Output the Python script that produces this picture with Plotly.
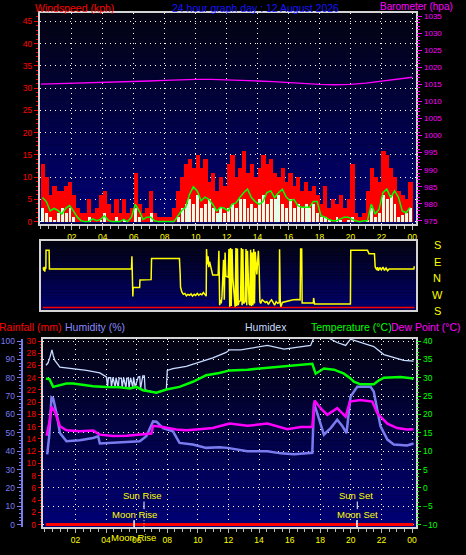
import plotly.graph_objects as go

W, H = 466, 555
def px(x): return x / W
def py(y): return 1 - y / H

FONT = "Liberation Sans"

# ---------------- data ----------------
# wind, 15-minute slots starting at 00:00
wind_slot_h = [i * 0.25 for i in range(96)]
gust_kph = [13, 10, 6, 8,   7, 7, 8, 9,   6, 3, 2, 2,   5, 2, 3, 6,
            7, 4, 2, 5,     2, 5, 2, 3,   11, 4, 2, 3,  7, 2, 1, 1,
            1, 1, 3, 7,     10, 13, 14, 12,  15, 12, 14, 9,  11, 7, 10, 8,
            13, 15, 10, 12, 16, 11, 13, 10,  12, 15, 13, 14, 11, 10, 12, 9,
            11, 8, 10, 7,   9, 7, 8, 6,   4, 8, 3, 5,   4, 6, 3, 5,
            13, 2, 1, 2,    7, 12, 10, 9,  16, 15, 12, 10,  7, 6, 5, 9]
avg_kph = [3, 2, 1, 0.5,  2, 3, 2, 3,  1, 0, 0, 0,  1, 0, 0, 0.5,
           2, 0, 0, 1,    0, 0.5, 0, 0,  3, 1, 0, 0,  2, 0, 0, 0,
           0, 0, 0, 1,    3, 4, 5, 4,  6, 3, 4, 5,  3, 2, 3, 2,
           3, 4, 3, 5,    5, 3, 4, 3,  5, 6, 4, 5,  5, 6, 4, 3,
           5, 3, 4, 3,    4, 3, 4, 2,  1, 1, 0.5, 0,  1, 0.5, 0, 0.5,
           1, 0, 0, 0,    0.5, 3, 1, 2,  6, 5, 6, 4,  1, 1.5, 2, 3]
avg10_kph = [5.4, 4.5, 2.4, 3.0,  2.5, 1.7, 3.0, 3.6,  2.4, 1.0, 0.2, 0.0,  0.0, 0.6, 0.2, 0.5,
             1.3, 0.3, 0.0, 0.0,  0.0, 0.5, 0.0, 1.0,  3.9, 2.4, 0.5, 1.0,  1.0, 0.2, 0.0, 0.0,
             0.0, 0.0, 0.0, 1.3,  2.5, 3.2, 6.1, 7.8,  6.9, 4.7, 5.5, 5.0,  3.9, 2.4, 3.2, 3.0,
             2.4, 3.9, 4.2, 5.4,  6.5, 7.3, 5.4, 4.5,  3.9, 4.5, 6.5, 6.9,  5.4, 6.5, 7.3, 5.5,
             4.7, 5.0, 3.6, 3.2,  3.2, 3.2, 4.5, 4.5,  1.3, 1.0, 0.5, 0.2,  0.2, 0.6, 1.0, 1.0,
             0.5, 0.2, 0.0, 0.2,  0.2, 3.9, 1.7, 2.8,  6.5, 7.3, 5.4, 6.9,  5.5, 2.4, 2.0, 3.2]

baro_hours = list(range(25))
baro_hpa = [1015.1, 1015.2, 1015.3, 1015.4, 1015.5, 1015.6, 1015.8, 1016.0, 1016.2,
            1016.4, 1016.5, 1016.5, 1016.4, 1016.2, 1016.0, 1015.8, 1015.5, 1015.2,
            1015.0, 1014.9, 1015.0, 1015.4, 1016.0, 1016.6, 1017.1]

# wind direction, signed bearing in degrees (E positive, W negative, S = +/-180)
dir_hours = [0.15, 0.18, 0.21, 0.25, 0.28, 0.32, 0.33, 0.53, 0.55, 5.85,
             5.88, 5.90, 5.92, 5.94, 5.96, 6.38, 6.40, 7.12, 7.15, 8.95,
             9.00, 9.02, 9.10, 9.20, 9.30, 9.40, 9.50, 9.60, 9.70, 9.80,
             9.90, 10.00, 10.10, 10.20, 10.30, 10.40, 10.50, 10.60, 10.68, 10.70,
             10.75, 10.80, 10.85, 10.90, 11.00, 11.10, 11.45, 11.50, 11.55, 11.60,
             11.65, 11.70, 11.80, 11.85, 11.90, 11.95, 12.10, 12.15, 12.20, 12.25,
             12.30, 12.35, 12.40, 12.50, 12.55, 12.60, 12.65, 12.70, 12.75, 12.80,
             12.90, 12.95, 13.00, 13.05, 13.10, 13.20, 13.25, 13.30, 13.35, 13.45,
             13.50, 13.55, 13.60, 13.65, 13.70, 13.75, 13.80, 13.85, 13.95, 14.05,
             14.10, 14.15, 14.20, 14.30, 14.50, 14.60, 14.70, 14.80, 14.90, 15.00,
             15.10, 15.20, 15.30, 15.40, 15.42, 15.47, 15.50, 15.60, 15.80, 16.00,
             16.30, 16.60, 16.75, 16.78, 16.85, 16.88, 17.60, 17.62, 17.68, 20.00,
             20.02, 21.10, 21.15, 21.20, 21.55, 21.60, 21.70, 21.75, 21.80, 21.90,
             22.00, 22.10, 22.20, 22.30, 22.40, 22.50, 22.70, 24.10, 24.12]
dir_deg = [58, 40, 62, 35, 55, 55, 153, 153, 49, 49,
           120, -60, 100, -102, -52, -52, -11, -9, 107, 107,
           20, -50, -75, -90, -85, -98, -90, -95, -88, -100,
           -90, -96, -85, -95, -88, -92, -80, -95, -100, 160,
           75, 120, 60, 90, 45, 16, 16, 150, -150, -120,
           -140, -100, 100, -120, 140, 10, 5, 160, -160, 165,
           -155, 160, 0, -150, -160, 165, -155, 162, -150, -130,
           -125, 165, -150, 160, -140, -130, 160, -150, 150, -140,
           -150, 155, -155, 140, -150, 160, -140, 145, 20, 150,
           60, -130, -140, -120, -135, -130, -145, -130, -120, -135,
           -150, -130, -140, -135, 158, -140, -160, -135, -130, -125,
           -120, -118, -120, 160, 160, -138, -138, -110, -143, -143,
           153, 153, 140, 134, 134, 61, 45, 60, 40, 58,
           45, 60, 42, 55, 40, 50, 49, 49, 65]
dir_labels = ["S", "E", "N", "W", "S"]
dir_label_y_px = [245, 262, 278.5, 295, 311.3]

temp_hours = [0.07, 0.30, 0.54, 0.98, 1.41, 1.85, 2.50, 3.15, 4.02, 4.89,
              5.54, 5.98, 6.41, 7.29, 7.94, 8.80, 9.67, 10.55, 11.40, 12.07,
              13.24, 14.55, 15.85, 17.48, 17.70, 18.24, 18.90, 19.55, 19.98, 20.20,
              20.63, 21.50, 21.84, 22.16, 23.24, 24.10]
temp_c = [29.8, 29.6, 27.5, 28.0, 28.4, 28.4, 28.0, 27.7, 27.5, 27.4,
          27.1, 27.5, 26.6, 25.9, 26.8, 27.5, 28.9, 30.7, 31.3, 32.0,
          32.2, 32.7, 33.1, 33.8, 31.1, 32.5, 32.2, 31.1, 29.8, 28.9,
          28.2, 28.2, 29.3, 30.0, 30.2, 29.8]

hx_hours = [0.07, 0.20, 0.33, 0.46, 0.55, 0.65, 0.98, 1.85, 2.72, 3.59,
            4.02, 4.10, 4.15, 4.30, 4.35, 4.45, 4.60, 4.65, 4.80, 4.85,
            5.00, 5.05, 5.15, 5.30, 5.35, 5.45, 5.50, 5.60, 5.75, 5.80,
            5.90, 6.10, 6.20, 6.25, 6.40, 6.50, 6.55, 7.29, 7.94, 8.00,
            8.37, 9.24, 10.10, 10.98, 11.85, 12.07, 12.80, 13.68, 14.55, 15.64,
            16.72, 17.37, 17.59, 18.46, 19.10, 19.66, 19.98, 20.63, 21.50, 22.16,
            22.81, 23.46, 24.10]
humidex_c = [33.4, 34.0, 35.6, 37.6, 36.0, 34.7, 32.9, 32.5, 32.0, 31.3,
             30.2, 27.5, 30.0, 30.0, 27.5, 30.1, 27.4, 30.0, 27.4, 29.9,
             29.9, 27.3, 30.0, 27.2, 29.9, 29.9, 27.2, 30.0, 27.4, 30.1,
             27.5, 30.2, 30.3, 27.0, 30.5, 30.5, 26.7, 25.9, 26.8, 32.0,
             32.5, 33.1, 34.3, 35.4, 36.9, 37.6, 37.6, 38.3, 38.8, 37.8,
             38.3, 38.8, 41.0, 41.0, 39.6, 38.8, 40.5, 39.6, 38.5, 36.3,
             35.4, 34.7, 34.5]

hum_hours = [0.15, 0.28, 0.43, 0.54, 0.76, 0.98, 1.41, 2.28, 3.15, 3.48,
             3.59, 4.46, 5.33, 6.20, 6.63, 6.90, 7.07, 7.30, 7.72, 8.37,
             8.60, 8.80, 9.67, 10.55, 11.40, 11.94, 13.24, 14.55, 15.41, 16.29,
             17.48, 17.59, 17.80, 18.24, 18.68, 19.11, 19.44, 19.72, 19.98, 20.42,
             21.29, 21.50, 21.94, 22.39, 22.81, 23.68, 24.10]
humidity_pct = [38.3, 48.1, 69.3, 68.8, 60.7, 49.9, 45.4, 46.0, 47.2, 48.1,
                44.2, 44.6, 45.0, 45.4, 48.1, 53.0, 56.2, 56.0, 52.6, 50.8,
                47.0, 44.5, 43.6, 41.8, 42.1, 41.8, 40.0, 40.0, 38.8, 38.3,
                39.1, 66.1, 60.7, 49.0, 52.6, 57.1, 53.7, 49.9, 69.7, 75.1,
                75.1, 72.4, 53.5, 46.3, 43.6, 43.1, 44.2]

dp_hours = [0.11, 0.28, 0.43, 0.65, 0.98, 1.41, 2.28, 3.15, 3.59, 4.46,
            5.33, 6.20, 6.96, 7.07, 7.72, 8.59, 9.24, 10.10, 10.98, 12.07,
            13.24, 14.55, 15.85, 16.72, 17.48, 17.63, 18.02, 18.46, 19.11, 19.66,
            19.94, 20.63, 21.40, 21.73, 22.39, 23.03, 23.68, 24.10]
dewpoint_c = [14.2, 17.6, 22.1, 20.8, 16.8, 15.7, 15.4, 15.6, 14.5, 14.1,
              14.2, 14.5, 14.8, 16.9, 16.6, 15.9, 15.7, 16.0, 16.3, 17.5,
              16.9, 17.5, 16.0, 16.6, 16.6, 23.8, 21.7, 19.9, 21.7, 19.4,
              23.5, 23.9, 23.5, 20.3, 17.5, 16.3, 15.9, 16.0]

rain_hours = [0.05, 24.10]
rain_mm = [0, 0]

hour_ticks = [2, 4, 6, 8, 10, 12, 14, 16, 18, 20, 22, 24]
hour_labels = ["02", "04", "06", "08", "10", "12", "14", "16", "18", "20", "22", "00"]

sun_rise_h, moon_rise_h = 6.48, 5.83
sun_set_h, moon_set_h = 20.42, 20.40

title_text = "24 hour graph day : 12 August 2026"

# ---------------- figure ----------------
RED, MAG, GRN, YEL = "#ff0000", "#ff00ff", "#00ff00", "#ffff00"
HUMC, HXC, FRAME = "#7b7bf0", "#c8dcff", "#d4d4d4"
GRID = dict(showgrid=True, gridcolor="#ffffff", griddash="1px,4px", gridwidth=1)

fig = go.Figure()

# top panel: wind speed
slot_mid = [h + 0.125 for h in wind_slot_h]
fig.add_trace(go.Bar(x=slot_mid, y=gust_kph, width=0.27,
                     marker=dict(color=RED, line=dict(width=0)), xaxis="x", yaxis="y"))
fig.add_trace(go.Bar(x=slot_mid, y=avg_kph, width=0.19,
                     marker=dict(color="#e4ffe8", line=dict(width=0)), xaxis="x", yaxis="y"))
fig.add_trace(go.Scatter(x=[h + 0.1 for h in wind_slot_h], y=avg10_kph, mode="lines",
                         line=dict(color=GRN, width=1.5), xaxis="x", yaxis="y"))
fig.add_trace(go.Scatter(x=baro_hours, y=baro_hpa, mode="lines",
                         line=dict(color=MAG, width=1.3), xaxis="x", yaxis="y2"))

# middle panel: direction
fig.add_trace(go.Scatter(x=dir_hours, y=dir_deg, mode="lines",
                         line=dict(color=YEL, width=1.5), xaxis="x2", yaxis="y3"))

# bottom panel
fig.add_trace(go.Scatter(x=hx_hours, y=humidex_c, mode="lines",
                         line=dict(color=HXC, width=1.3), xaxis="x3", yaxis="y6"))
fig.add_trace(go.Scatter(x=temp_hours, y=temp_c, mode="lines",
                         line=dict(color=GRN, width=2.5), xaxis="x3", yaxis="y6"))
fig.add_trace(go.Scatter(x=hum_hours, y=humidity_pct, mode="lines",
                         line=dict(color=HUMC, width=2.5), xaxis="x3", yaxis="y5"))
fig.add_trace(go.Scatter(x=dp_hours, y=dewpoint_c, mode="lines",
                         line=dict(color=MAG, width=2.5), xaxis="x3", yaxis="y6"))
fig.add_trace(go.Scatter(x=rain_hours, y=rain_mm, mode="lines",
                         line=dict(color=RED, width=3), xaxis="x3", yaxis="y4"))

tickfont = lambda c: dict(family=FONT, size=8.5, color=c)
frame = dict(showline=True, linecolor=FRAME, linewidth=2, mirror=True, zeroline=False)

fig.update_layout(
    width=W, height=H, margin=dict(l=0, r=0, t=0, b=0),
    paper_bgcolor="#000000", plot_bgcolor="#000000",
    showlegend=False, barmode="overlay", bargap=0,
    xaxis=dict(domain=[px(40), px(417.3)], range=[-0.0645, 24.262], anchor="y",
               tickmode="array", tickvals=hour_ticks, ticktext=hour_labels,
               tickfont=tickfont(YEL), ticks="outside", ticklen=4, tickcolor="#bbbbbb",
               minor=dict(dtick=0.5, tick0=0, ticklen=3, tickcolor="#bbbbbb", ticks="outside"),
               **GRID, **frame),
    yaxis=dict(domain=[py(223), py(10)], range=[-0.444, 46.89], anchor="x",
               tickmode="array", tickvals=list(range(0, 50, 5)),
               tickfont=tickfont(RED), ticks="outside", ticklen=4, tickcolor=RED,
               minor=dict(dtick=1, tick0=0, ticklen=2, tickcolor=RED, ticks="outside"),
               **GRID, **frame),
    yaxis2=dict(overlaying="y", side="right", anchor="x", range=[974.22, 1035.96],
                tickmode="array", tickvals=list(range(975, 1040, 5)),
                tickfont=dict(family=FONT, size=8, color=MAG), ticks="outside", ticklen=5,
                tickcolor=MAG,
                minor=dict(dtick=1, tick0=0, ticklen=3, tickcolor=MAG, ticks="outside"),
                showgrid=False, zeroline=False, showline=False),
    xaxis2=dict(domain=[px(41), px(417.3)], range=[0, 24.262], anchor="y3",
                showticklabels=False, ticks="", showgrid=False, **frame),
    yaxis3=dict(domain=[py(310), py(241)], range=[-174.5, 201.8], anchor="x2",
                showticklabels=False, ticks="", showgrid=False, **frame),
    xaxis3=dict(domain=[px(42.7), px(417.3)], range=[-0.150, 24.286], anchor="y4",
                tickmode="array", tickvals=hour_ticks, ticktext=hour_labels,
                tickfont=tickfont(YEL), ticks="outside", ticklen=4, tickcolor="#bbbbbb",
                minor=dict(dtick=0.5, tick0=0, ticklen=3, tickcolor="#bbbbbb", ticks="outside"),
                **GRID, **frame),
    yaxis4=dict(domain=[py(530), py(339.3)], range=[-0.436, 30.39], anchor="x3",
                tickmode="array", tickvals=list(range(0, 32, 2)),
                tickfont=tickfont(RED), ticks="outside", ticklen=3, tickcolor=RED,
                minor=dict(dtick=0.5, tick0=0, ticklen=1, tickcolor=RED, ticks="outside"),
                showgrid=False, **frame),
    yaxis5=dict(overlaying="y4", anchor="free", position=px(21.7), side="left",
                range=[-1.45, 101.3], tickmode="array", tickvals=list(range(0, 110, 10)),
                tickfont=tickfont(HUMC), ticks="outside", ticklen=4, tickcolor=HUMC,
                minor=dict(dtick=2, tick0=0, ticklen=2, tickcolor=HUMC, ticks="outside"),
                showline=True, linecolor=HUMC, linewidth=2, showgrid=False, zeroline=False),
    yaxis6=dict(overlaying="y4", side="right", anchor="x3", range=[-10.73, 40.65],
                tickmode="array", tickvals=list(range(-10, 45, 5)),
                tickfont=tickfont(GRN), ticks="outside", ticklen=4, tickcolor=GRN,
                minor=dict(dtick=1, tick0=0, ticklen=2, tickcolor=GRN, ticks="outside"),
                zeroline=False, showline=False, **GRID),
)

# gradient backgrounds
shapes = []
def gradient(xref, yref, n=48, top=(3, 3, 16), bot=(0, 0, 120)):
    for i in range(n):
        t = (i + 0.5) / n  # 0 bottom -> 1 top
        c = tuple(round(bot[k] * (1 - t) + top[k] * t) for k in range(3))
        shapes.append(dict(type="rect", xref=xref, yref=yref, x0=0, x1=1,
                           y0=i / n, y1=(i + 1) / n + 0.002, layer="below",
                           line=dict(width=0), fillcolor="rgb(%d,%d,%d)" % c))
gradient("x domain", "y domain")
gradient("x2 domain", "y3 domain", n=24, bot=(0, 0, 110))
gradient("x3 domain", "y4 domain")

# calm/red baseline in direction panel
shapes.append(dict(type="line", xref="x2 domain", yref="y3", x0=0.005, x1=0.995,
                   y0=-162, y1=-162, line=dict(color=RED, width=1.5), layer="above"))

# sun / moon markers
for h in [sun_rise_h, sun_set_h]:
    shapes.append(dict(type="line", xref="x3", yref="paper", x0=h, x1=h,
                       y0=py(511.7), y1=py(504), line=dict(color="#ffffff", width=1)))
    shapes.append(dict(type="line", xref="x3", yref="paper", x0=h, x1=h,
                       y0=py(530), y1=py(517),
                       line=dict(color="#ffff99", width=1, dash="1px,2px")))
for h in [moon_rise_h, moon_set_h]:
    shapes.append(dict(type="line", xref="x3", yref="paper", x0=h, x1=h,
                       y0=py(530), y1=py(523), line=dict(color="#ffffff", width=1.5)))
fig.update_layout(shapes=shapes)

ann = []
def text(x, y, s, color, size=11, xanchor="center"):
    ann.append(dict(x=px(x), y=py(y), xref="paper", yref="paper", text=s, showarrow=False,
                    xanchor=xanchor, yanchor="middle",
                    font=dict(family=FONT, size=size, color=color)))

text(75, 5, "Windspeed (kph)", RED, 10.5)
text(256.5, 5, title_text, "#1515ff", 10.5)
text(417, 3.5, "Barometer (hpa)", MAG, 10)

text(30, 327.5, "Rainfall (mm)", RED, 10.5)
text(95, 327.5, "Humidity (%)", "#8a8aff", 10.5)
text(267, 327.5, "Humidex", HXC, 10.5)
text(352, 327.5, "Temperature (°C)", GRN, 10.5)
text(427, 327.5, "Dew Point (°C)", MAG, 10.5)

for lab, ypx in zip(dir_labels, dir_label_y_px):
    text(438, ypx, lab, YEL, 11)

text(143, 497.7, "Sun Rise", YEL, 9.5)
text(135, 517, "Moon Rise", YEL, 9.5)
text(357, 497.7, "Sun Set", YEL, 9.5)
text(358, 517, "Moon Set", YEL, 9.5)
text(134, 540.7, "Moon Rise", YEL, 9.5)

fig.update_layout(annotations=ann)

fig.write_html("out.html", config={"displayModeBar": False},
               post_script="document.body.style.margin='0px';document.body.style.overflow='hidden';")
